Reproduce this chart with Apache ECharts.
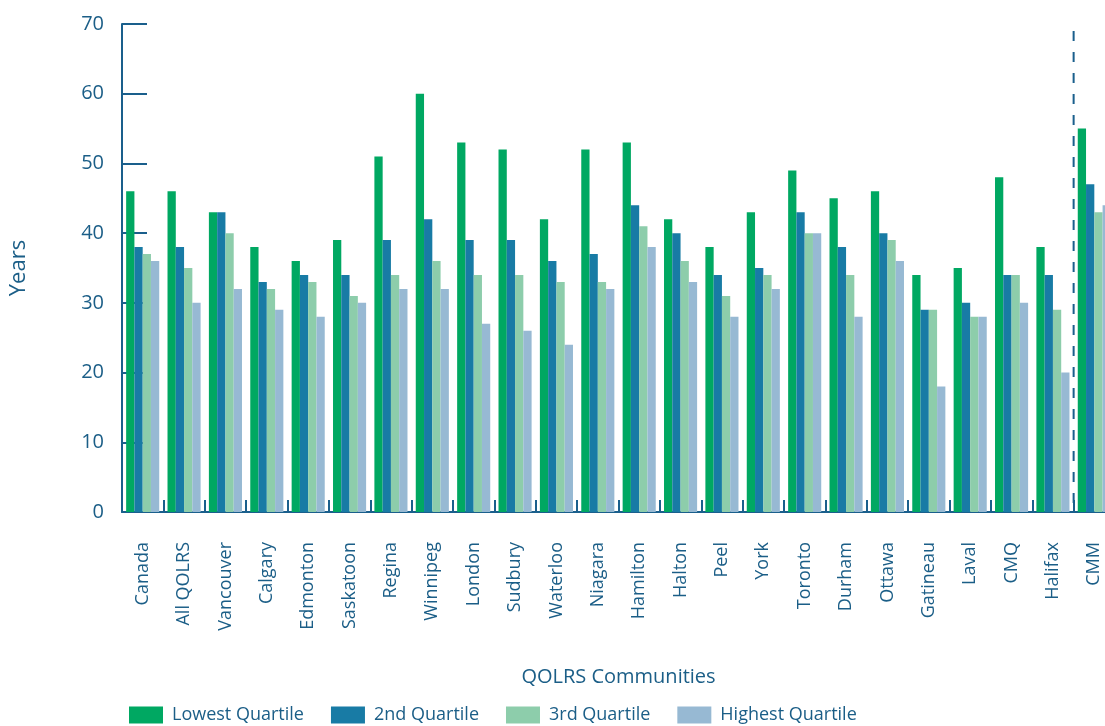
<!DOCTYPE html>
<html>
<head>
<meta charset="utf-8">
<script src="https://cdn.jsdelivr.net/npm/echarts@6/dist/echarts.min.js"></script>
<style>html,body{margin:0;padding:0;background:#fff;overflow:hidden;width:1105px;height:726px;}#chart{width:1125px;height:726px;}</style>
</head>
<body>
<div id="chart"></div>
<script>
const categories = ['Canada','All QOLRS','Vancouver','Calgary','Edmonton','Saskatoon','Regina','Winnipeg','London','Sudbury','Waterloo','Niagara','Hamilton','Halton','Peel','York','Toronto','Durham','Ottawa','Gatineau','Laval','CMQ','Halifax','CMM'];
const lowestQuartile  = [46,46,43,38,36,39,51,60,53,52,42,52,53,42,38,43,49,45,46,34,35,48,38,55];
const secondQuartile  = [38,38,43,33,34,34,39,42,39,39,36,37,44,40,34,35,43,38,40,29,30,34,34,47];
const thirdQuartile   = [37,35,40,32,33,31,34,36,34,34,33,33,41,36,31,34,40,34,39,29,28,34,29,43];
const highestQuartile = [36,30,32,29,28,30,32,32,27,26,24,32,38,33,28,32,40,28,36,18,28,30,20,44];
const seriesNames = ['Lowest Quartile','2nd Quartile','3rd Quartile','Highest Quartile'];
const yTicks = [0,10,20,30,40,50,60,70];
const separatorAt = 23;       // boundary between Halifax and CMM
const separatorTop = 69;

const textColor = '#1b5e87';
const axisColor = '#1a5f8c';
const colors = ['#00a862','#187ba5','#8dcdab','#97b9d3'];
const font = 'Open Sans';

const chart = echarts.init(document.getElementById('chart'), null, {renderer:'canvas'});
const dataSets = [lowestQuartile, secondQuartile, thirdQuartile, highestQuartile];

const barSeries = dataSets.map((d, i) => ({
  name: seriesNames[i],
  type: 'bar',
  data: d,
  xAxisIndex: 0,
  yAxisIndex: 0,
  barGap: '0%',
  barCategoryGap: '20%',
  itemStyle: { color: colors[i] },
  emphasis: { disabled: true },
  animation: false
}));

chart.setOption({
  animation: false,
  color: colors,
  textStyle: { fontFamily: font, color: textColor },
  grid: { left: 121, top: 24, width: 994, height: 488, containLabel: false },
  legend: {
    data: seriesNames,
    left: 124,
    top: 701,
    itemWidth: 34,
    itemHeight: 17,
    itemGap: 27,
    icon: 'rect',
    textStyle: { fontFamily: font, fontSize: 18, color: textColor, padding: [0,0,0,4] }
  },
  xAxis: [{
    type: 'category',
    data: categories,
    name: 'QOLRS Communities',
    nameLocation: 'middle',
    nameGap: 155,
    nameTextStyle: { fontFamily: font, fontSize: 20, color: textColor },
    axisLine: { show: true, lineStyle: { color: axisColor, width: 2 } },
    axisTick: { show: true, inside: true, length: 12, lineStyle: { color: axisColor, width: 2 } },
    axisLabel: { rotate: 90, margin: 30, fontFamily: font, fontSize: 18, color: textColor, interval: 0 },
    splitLine: { show: false }
  }, {
    type: 'value',
    min: 0,
    max: categories.length,
    show: false,
    position: 'bottom'
  }],
  yAxis: {
    type: 'value',
    min: yTicks[0],
    max: yTicks[yTicks.length-1],
    interval: 10,
    name: 'Years',
    nameLocation: 'middle',
    nameRotate: 90,
    nameGap: 92,
    nameTextStyle: { fontFamily: font, fontSize: 22, color: textColor },
    axisLine: { show: true, lineStyle: { color: axisColor, width: 2 } },
    axisTick: { show: true, inside: true, length: 25, lineStyle: { color: axisColor, width: 2 } },
    axisLabel: { margin: 18, fontFamily: font, fontSize: 20, color: textColor },
    splitLine: { show: false }
  },
  series: barSeries.concat([{
    type: 'line',
    xAxisIndex: 1,
    yAxisIndex: 0,
    data: [[separatorAt, separatorTop], [separatorAt, 0]],
    symbol: 'none',
    silent: true,
    lineStyle: { color: axisColor, width: 2, type: [10, 11] },
    z: 5
  }])
});
</script>
</body>
</html>
